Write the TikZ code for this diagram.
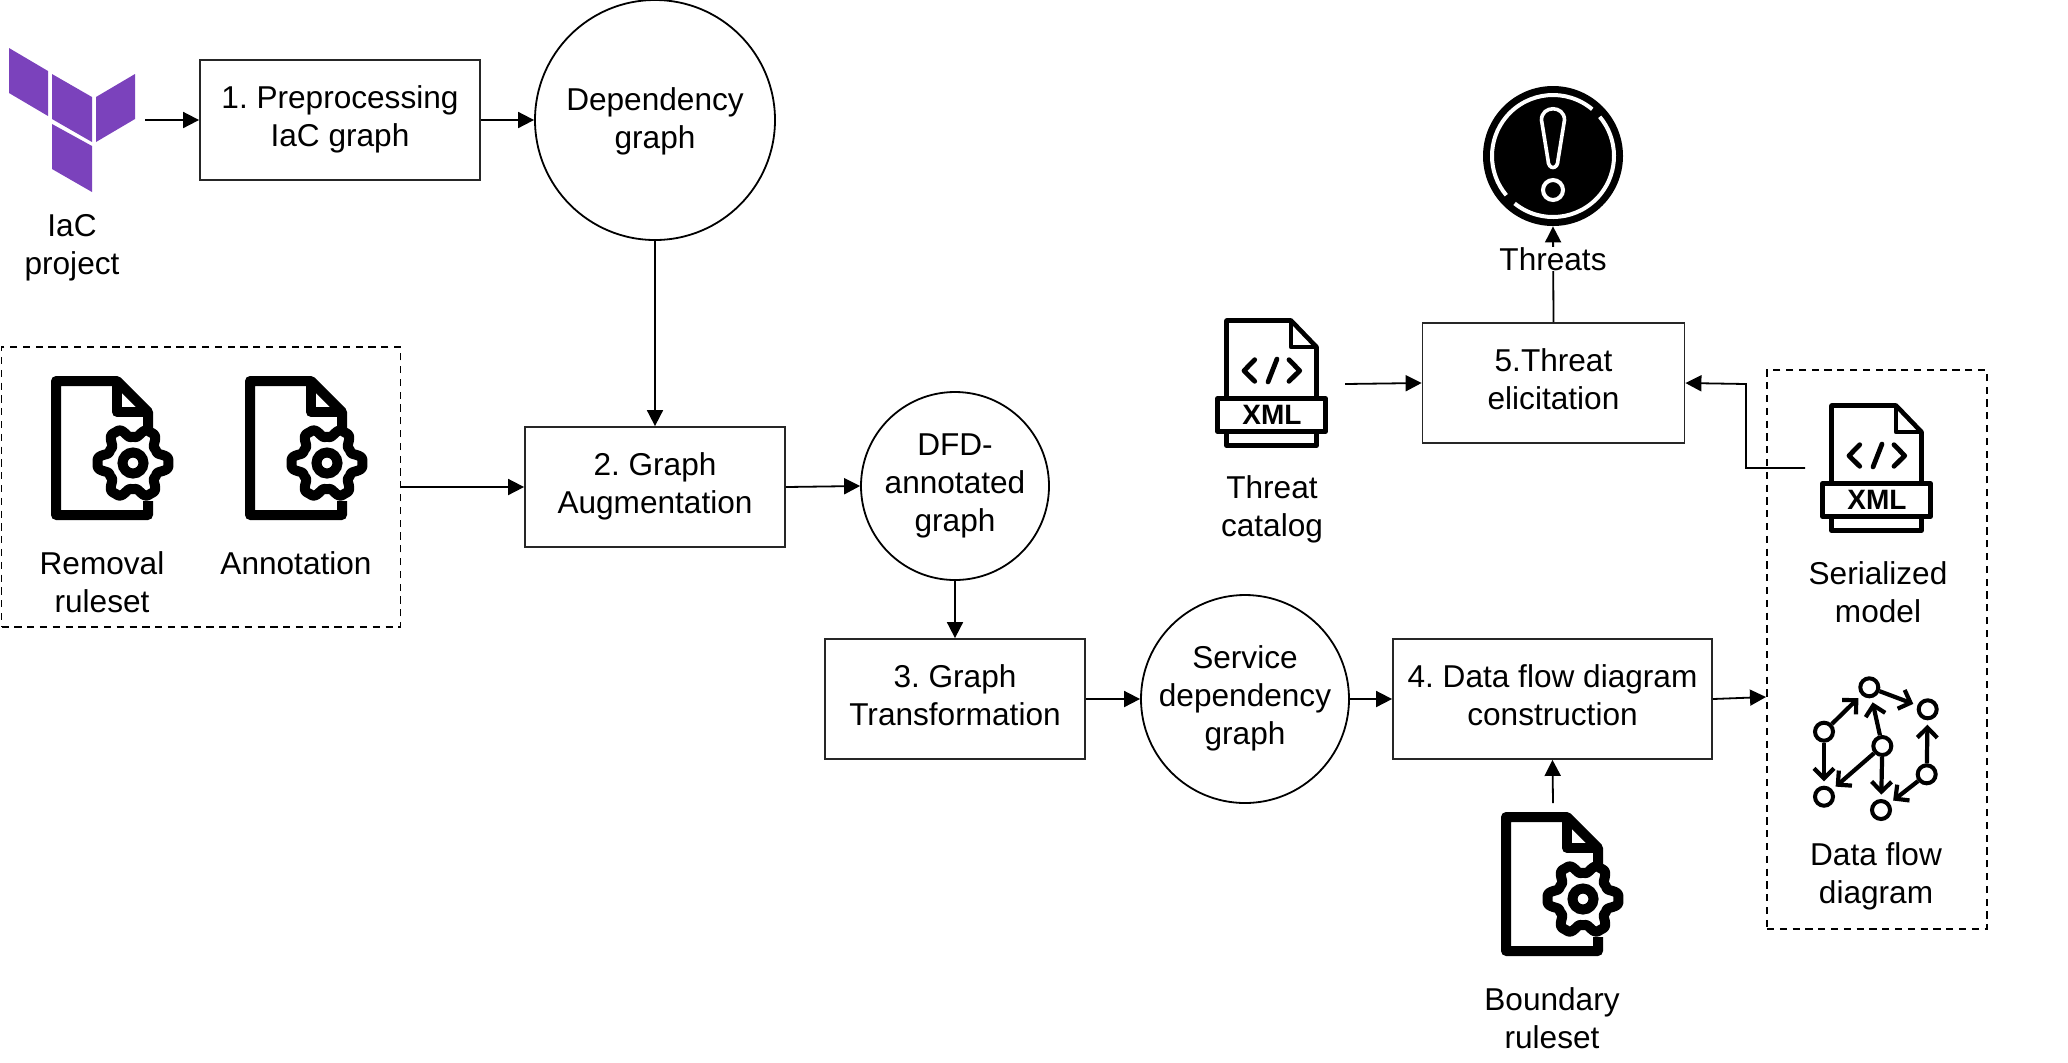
\documentclass[tikz,border=0pt]{standalone}
\usepackage{fontspec}
\setmainfont{Liberation Sans}
\usetikzlibrary{arrows.meta,calc}
\definecolor{tfpurple}{HTML}{7B42BC}
\tikzset{
  every node/.style={font=\fontsize{15.8}{19}\selectfont\frenchspacing,align=center,inner sep=0pt},
  procbox/.style={draw=black!85,line width=.9pt,minimum width=#1,minimum height=60pt,text depth=4pt},
  circ/.style={draw=black,line width=.9pt,circle,minimum size=#1},
  dashbox/.style={draw=black,line width=.9pt,dash pattern=on 3.6pt off 2.8pt},
  lbl/.style={text=black},
  conn/.style={line width=.9pt,-{Triangle[length=8pt,width=8pt]}},
  gnode/.style={circle,draw=black,line width=2pt,minimum size=9pt,fill=white},
  gedge/.style={line width=2.1pt,shorten >=2.2pt,-{Straight Barb[length=5pt,width=10pt,line width=2.1pt]}},
  docgear/.pic={
    \draw[line width=5pt,line join=round,fill=white] (97,125)--(97,139)--(5,139)--(5,5)--(66,5)--(97,36)--(97,60);
    \draw[line width=5pt,line join=round] (66,5)--(66,36)--(97,36);
    \draw[line width=5pt,line join=round,fill=white]
      plot[domain=0:360,samples=145,variable=\t]
      ({82+(30.8+5.5*(cos(6*\t)-cos(18*\t)/6))*cos(\t)},{87+(30.8+5.5*(cos(6*\t)-cos(18*\t)/6))*sin(\t)}) -- cycle;
    \draw[line width=5pt] (82,87) circle[radius=10.5];
  },
  xmlicon/.pic={
    \draw[line width=2.3pt,line join=round,fill=white] (2.5,80)--(2.5,2.5)--(67,2.5)--(92.5,29)--(92.5,80);
    \draw[line width=2.3pt,line join=round] (67,2.5)--(67,29)--(92.5,29);
    \draw[line width=2.3pt,line join=round] (2.5,113)--(2.5,127.5)--(92.5,127.5)--(92.5,113);
    \draw[line width=2.3pt,line join=round,fill=white] (-6.5,80.5) rectangle (101.5,113.5);
    \draw[line width=2.4pt,line cap=round,line join=round] (30.7,41.7)--(20,52.7)--(30.7,63.3);
    \draw[line width=2.4pt,line cap=round,line join=round] (65,41.7)--(75.7,52.7)--(65,63.3);
    \draw[line width=2.4pt,line cap=round] (53,41)--(44,64);
    \node[font=\fontsize{14}{14}\selectfont\bfseries] at (48,97) {XML};
  }
}
\begin{document}
\begin{tikzpicture}[x=.5pt,y=-.5pt]
\useasboundingbox (0,0) rectangle (2068,1062);

% Terraform logo
\fill[tfpurple] (9,48)--(48,71)--(48,116)--(9,93)--cycle;
\fill[tfpurple] (52,74)--(92,97)--(92,142)--(52,119)--cycle;
\fill[tfpurple] (96,97)--(135,74)--(135,119)--(96,142)--cycle;
\fill[tfpurple] (52,124)--(92,146)--(92,192)--(52,169)--cycle;
\coordinate (iacout) at (145,120);
\node[lbl] (iaclbl) at (72,248) {IaC\\project};

% process boxes
\node[procbox=140pt] (box1) at (340,120) {1. Preprocessing\\IaC graph};
\node[procbox=130pt] (box2) at (655,487) {2. Graph\\Augmentation};
\node[procbox=130pt] (box3) at (955,699) {3. Graph\\Transformation};
\node[procbox=159.5pt] (box4) at (1552.5,699) {4. Data flow diagram\\construction};
\node[procbox=131pt] (box5) at (1553.5,383) {5.Threat\\elicitation};

% circles
\node[circ=120pt,text depth=1.7pt] (dep) at (655,120) {Dependency\\graph};
\node[circ=94pt] (dfd) at (955,486) {DFD-\\annotated\\graph};
\node[circ=104pt,text depth=4pt] (svc) at (1245,699) {Service\\dependency\\graph};

% dashed groups
\node[dashbox,minimum width=199.5pt,minimum height=140pt] (grp1) at (201,487) {};
\node[dashbox,minimum width=110pt,minimum height=279.5pt] (grp2) at (1877,649.5) {};

% rule icons
\pic at (51,376) {docgear};
\pic at (245,376) {docgear};
\pic at (1501,812) {docgear};
\coordinate (bndout) at (1553,803);
\node[lbl] (remlbl) at (102,582) {Removal\\ruleset};
\node[lbl] (annlbl) at (296,563) {Annotation};
\node[lbl] (bndlbl) at (1552,1018) {Boundary\\ruleset};

% xml icons
\pic at (1224,318) {xmlicon};
\pic at (1829,403) {xmlicon};
\coordinate (catout) at (1345,384);
\coordinate (serout) at (1805,468);
\coordinate (serbend) at (1746,468);
\coordinate (serin) at (1746,384);
\node[lbl] (catlbl) at (1272,509) {Threat\\catalog};
\node[lbl] (serlbl) at (1878,592) {Serialized\\model};

% threat icon
\node[circle,fill=black,minimum size=70pt] (threat) at (1553,156) {};
\draw[white,line width=2pt] (1553,156) ++(-50:61) arc[start angle=-50,end angle=-220,radius=61];
\draw[white,line width=2pt] (1553,156) ++(-231:61) arc[start angle=-231,end angle=-400,radius=61];
\draw[white,line width=1.8pt,line join=round]
  (1541.5,120) .. controls (1541.5,105) and (1564.5,105) .. (1564.5,120)
  -- (1558,160) .. controls (1558,170) and (1548,170) .. (1548,160) -- cycle;
\draw[white,line width=2pt] (1553,190) circle[radius=10];

% graph icon
\node[gnode] (g1) at (1869.3,687.3) {};
\node[gnode] (g2) at (1927.7,709.3) {};
\node[gnode] (g3) at (1824,731.7) {};
\node[gnode] (g4) at (1882.3,746) {};
\node[gnode] (g5) at (1926.7,774.3) {};
\node[gnode] (g6) at (1824,796.7) {};
\node[gnode] (g7) at (1881,810) {};
\draw[gedge] (g1)--(g2);
\draw[gedge] (g3)--(g1);
\draw[gedge] (g4)--(g1);
\draw[gedge] (g5)--(g2);
\draw[gedge] (g3)--(g6);
\draw[gedge] (g4)--(g7);
\draw[gedge] (g4)--(g6);
\draw[gedge] (g5)--(g7);
\node[lbl] (dfdlbl) at (1876,876) {Data flow\\diagram};

% connectors
\coordinate (g2in) at (1766,697);
\draw[conn] (iacout)--(box1.west);
\draw[conn] (box1.east)--(dep.west);
\draw[conn] (dep.south)--(box2.north);
\draw[conn] (grp1.east)--(box2.west);
\draw[conn] (box2.east)--(dfd.west);
\draw[conn] (dfd.south)--(box3.north);
\draw[conn] (box3.east)--(svc.west);
\draw[conn] (svc.east)--(box4.west);
\draw[conn] (box4.east)--(g2in);
\draw[conn] (bndout)--(box4.south);
\draw[conn] (catout)--(box5.west);
\draw[conn] (serout)--(serbend)--(serin)--(box5.east);
\draw[conn] (box5.north)--(threat.south);
\node[lbl,fill=white] (thrlbl) at (1553,259) {Threats};
\end{tikzpicture}
\end{document}
